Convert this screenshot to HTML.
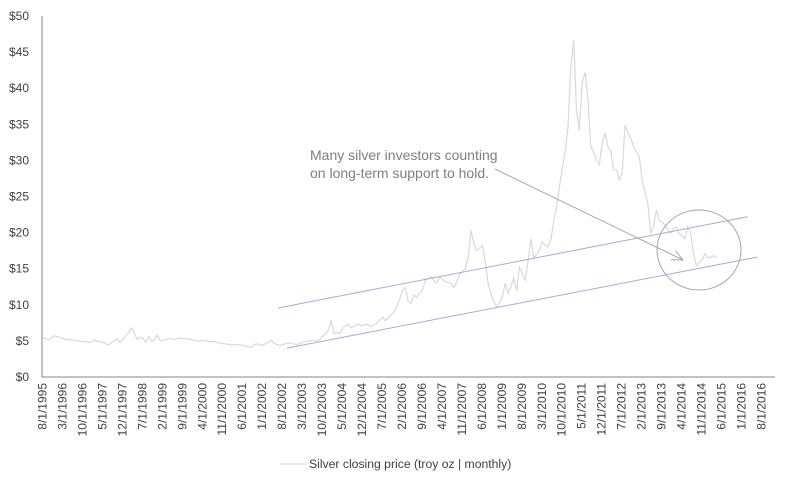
<!DOCTYPE html>
<html><head><meta charset="utf-8"><style>
body{margin:0;background:#fff;}
svg{display:block;font-family:"Liberation Sans",sans-serif;}
</style></head><body>
<svg id="chart" width="791" height="485" viewBox="0 0 791 485">
<g id="yaxis"></g><g id="xaxis"></g><g id="series"></g><g id="overlay"></g>
</svg>
<script>
const yTicks=[0,5,10,15,20,25,30,35,40,45,50];
const xLabels=["8/1/1995","3/1/1996","10/1/1996","5/1/1997","12/1/1997","7/1/1998","2/1/1999","9/1/1999","4/1/2000","11/1/2000","6/1/2001","1/1/2002","8/1/2002","3/1/2003","10/1/2003","5/1/2004","12/1/2004","7/1/2005","2/1/2006","9/1/2006","4/1/2007","11/1/2007","6/1/2008","1/1/2009","8/1/2009","3/1/2010","10/1/2010","5/1/2011","12/1/2011","7/1/2012","2/1/2013","9/1/2013","4/1/2014","11/1/2014","6/1/2015","1/1/2016","8/1/2016"];
const prices=[5.4,5.3,5.1,5.4,5.7,5.6,5.5,5.3,5.2,5.2,
5.1,5.1,5.0,5.0,4.9,4.9,4.8,4.8,5.2,4.9,
4.9,4.8,4.6,4.4,4.8,5.0,5.3,4.8,5.2,5.7,
6.2,6.8,6.1,5.2,5.5,5.4,4.8,5.6,5.0,5.1,
5.8,5.1,5.0,5.2,5.3,5.3,5.2,5.3,5.4,5.3,
5.3,5.3,5.2,5.1,5.0,5.0,5.1,5.0,4.9,4.9,
4.9,4.8,4.7,4.6,4.6,4.5,4.4,4.5,4.5,4.4,
4.4,4.3,4.2,4.1,4.5,4.6,4.4,4.4,4.6,4.8,
5.1,4.7,4.5,4.4,4.5,4.6,4.7,4.7,4.6,4.5,
4.6,4.8,4.9,5.0,5.0,5.1,5.0,5.2,5.6,6.0,
6.4,7.9,6.0,6.2,6.0,6.7,7.1,7.3,6.8,7.0,
7.3,7.2,7.1,7.3,7.2,7.0,7.2,7.5,7.8,8.3,
7.8,8.2,8.6,9.0,9.8,10.8,12.0,12.4,10.5,10.2,
11.4,11.0,11.6,12.0,13.4,13.6,13.9,13.4,13.0,13.8,
13.5,13.2,13.1,13.0,12.4,13.2,14.2,14.6,15.0,16.5,
20.3,18.5,17.5,17.8,18.3,16.0,13.0,11.5,10.5,9.7,
10.3,11.0,13.0,11.6,12.5,13.7,12.0,15.2,14.3,13.4,
16.0,19.2,16.5,17.0,17.6,18.7,18.3,18.0,19.0,21.5,
23.5,26.3,28.9,31.2,34.6,42.9,46.7,37.0,34.2,40.7,
42.2,38.4,31.9,31.2,30.0,29.4,32.4,33.8,31.9,31.4,
28.7,28.7,27.3,28.3,34.9,33.8,33.1,31.9,31.2,30.5,
27.3,25.5,24.1,19.9,20.8,23.1,21.7,21.5,21.0,20.4,
19.9,20.5,20.8,19.9,19.5,19.2,20.8,19.9,17.1,15.5,
15.8,16.2,17.1,16.5,16.6,16.8,16.5];
const upperTrendIdx=[82.4,247];
const upperTrendVal=[9.56,22.2];
const lowerTrendIdx=[85.5,250.3];
const lowerTrendVal=[4.0,16.6];

const NS="http://www.w3.org/2000/svg";
function X(i){return 43+i*2.853;}
function Y(v){return 377-v*7.22;}
function mk(tag,attrs,parent,text){const e=document.createElementNS(NS,tag);for(const k in attrs)e.setAttribute(k,attrs[k]);if(text!==undefined)e.textContent=text;parent.appendChild(e);return e;}
const yg=document.getElementById('yaxis'),xg=document.getElementById('xaxis'),sg=document.getElementById('series'),og=document.getElementById('overlay');

const yl=mk('line',{x1:42,y1:Y(50),x2:42,y2:377,stroke:'#868686','stroke-width':1},yg);


yTicks.forEach(v=>{
  const t=mk('text',{x:29,y:Y(v)+4,'text-anchor':'end','font-size':12,fill:'#404040'},yg,'$'+v);
  
  
});
const xl=mk('line',{x1:42,y1:377,x2:775,y2:377,stroke:'#868686','stroke-width':1},xg);


xLabels.forEach((s,k)=>{
  const cx=X(k*7)+3.5;
  const t=mk('text',{x:0,y:0,transform:`translate(${cx},383) rotate(-90)`,'text-anchor':'end','font-size':12,fill:'#404040'},xg,s);
  
  
});
const p=mk('polyline',{points:prices.map((v,i)=>X(i).toFixed(1)+','+Y(v).toFixed(1)).join(' '),fill:'none',stroke:'#d9d9d9','stroke-width':1.2},sg);


const ut=mk('line',{x1:X(upperTrendIdx[0]),y1:Y(upperTrendVal[0]),x2:X(upperTrendIdx[1]),y2:Y(upperTrendVal[1]),stroke:'#95b3d7','stroke-width':1},og);


const lt=mk('line',{x1:X(lowerTrendIdx[0]),y1:Y(lowerTrendVal[0]),x2:X(lowerTrendIdx[1]),y2:Y(lowerTrendVal[1]),stroke:'#95b3d7','stroke-width':1},og);


</script>
<svg style="position:absolute;left:0;top:0" width="791" height="485">
<defs><marker id="ah2" markerWidth="12" markerHeight="12" refX="11" refY="6" orient="auto" markerUnits="userSpaceOnUse"><path d="M0,1 L11,6 L0,11" fill="none" stroke="#a6a6a6" stroke-width="1"/></marker></defs>
<ellipse cx="699" cy="250" rx="42" ry="40" fill="none" stroke="#a6a6a6" stroke-width="1"/>
<line x1="495" y1="169" x2="683" y2="260" stroke="#a6a6a6" stroke-width="1" marker-end="url(#ah2)"/>
<text x="310" y="160" font-family="Liberation Sans, sans-serif" font-size="14" fill="#7f7f7f">Many silver investors counting</text>
<text x="310" y="178" font-family="Liberation Sans, sans-serif" font-size="14" fill="#7f7f7f">on long-term support to hold.</text>
<line x1="280" y1="464" x2="306" y2="464" stroke="#d9d9d9" stroke-width="1.2"/>
<text x="309" y="468" font-family="Liberation Sans, sans-serif" font-size="12.2" fill="#404040">Silver closing price (troy oz | monthly)</text>
</svg>
</body></html>
